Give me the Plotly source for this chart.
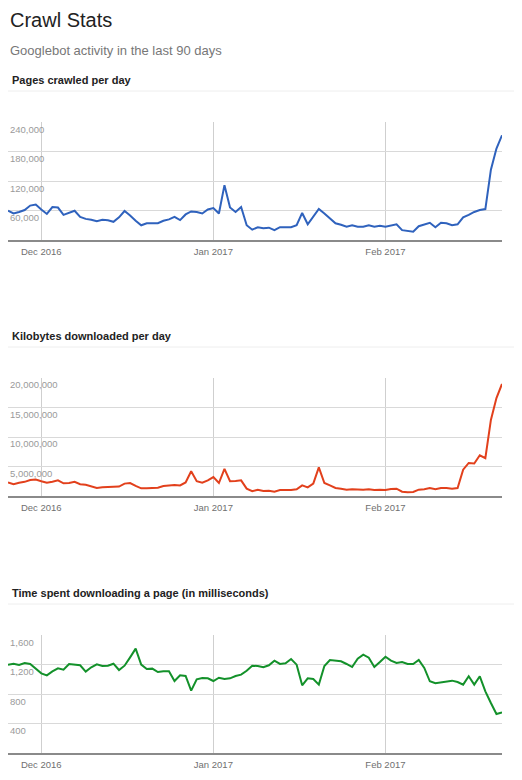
import pandas as pd
import plotly.graph_objects as go

# page body has an 8px margin, so the figure is a bit smaller and shifted
OFF = 8
W, H = 522 - 2 * OFF, 780 - 2 * OFF

days = pd.date_range("2016-11-25", "2017-02-22", freq="D")

pages_crawled = [
    59500, 54000, 57000, 61000, 70000, 72000, 62000, 53000, 67000, 66000,
    51000, 55000, 59500, 47000, 43000, 41000, 38000, 41000, 40000, 37000,
    46000, 59000, 50000, 39000, 30000, 34000, 34000, 34000, 39000, 42000,
    47000, 40500, 52000, 58000, 57000, 54000, 62000, 65000, 54000, 111500,
    66000, 57000, 67000, 30000, 21000, 26000, 24000, 25000, 20000, 26000,
    26000, 26000, 30000, 55000, 32000, 47000, 63000, 54000, 44000, 34000,
    31000, 27000, 30000, 27000, 27000, 30000, 27000, 29000, 27000, 30000,
    32000, 20000, 18000, 17000, 28000, 32000, 35000, 26000, 35000, 34000,
    30000, 32000, 46000, 51000, 57000, 61000, 63000, 143000, 186000, 213000,
]

kb_downloaded = [
    2300000, 2000000, 2260000, 2400000, 2700000, 2800000, 2500000, 2260000, 2400000, 2650000,
    2150000, 2200000, 2400000, 2000000, 1900000, 1640000, 1360000, 1470000, 1500000, 1500000,
    1600000, 2100000, 2200000, 1700000, 1300000, 1300000, 1360000, 1400000, 1700000, 1800000,
    1860000, 1800000, 2300000, 4200000, 2500000, 2260000, 2650000, 3200000, 2200000, 4600000,
    2500000, 2550000, 2650000, 1240000, 800000, 1070000, 850000, 900000, 730000, 1000000,
    1000000, 1000000, 1130000, 1800000, 1470000, 2100000, 4860000, 2200000, 1800000, 1360000,
    1240000, 1070000, 1130000, 1070000, 1070000, 1130000, 1000000, 1070000, 1000000, 1200000,
    1240000, 730000, 620000, 680000, 1070000, 1130000, 1360000, 1130000, 1360000, 1360000,
    1240000, 1360000, 4460000, 5600000, 5500000, 6900000, 6400000, 12900000, 16600000, 19000000,
]

ms_per_page = [
    1198, 1211, 1193, 1220, 1207, 1139, 1080, 1053, 1107, 1148,
    1130, 1207, 1202, 1189, 1103, 1162, 1202, 1180, 1184, 1211,
    1125, 1184, 1297, 1415, 1198, 1139, 1144, 1098, 1107, 1107,
    976, 1053, 1044, 845, 999, 1017, 1012, 976, 1021, 1003,
    1012, 1044, 1062, 1116, 1184, 1180, 1162, 1189, 1252, 1207,
    1216, 1275, 1198, 918, 1012, 1003, 927, 1180, 1261, 1248,
    1243, 1207, 1166, 1279, 1333, 1293, 1166, 1234, 1306, 1252,
    1220, 1234, 1207, 1207, 1261, 1153, 972, 945, 954, 972,
    981, 963, 927, 1040, 927, 1040, 836, 678, 529, 551,
]

month_ticks = ["2016-12-01", "2017-01-01", "2017-02-01"]
month_labels = ["Dec 2016", "Jan 2017", "Feb 2017"]

panels = [
    # title, values, color, y ticks, y max, plot top/bottom px, title y, rule y
    ("Pages crawled per day", pages_crawled, "#2f62bd",
     [60000, 120000, 180000, 240000], 240000, 122, 240, 80, 91),
    ("Kilobytes downloaded per day", kb_downloaded, "#e2401c",
     [5000000, 10000000, 15000000, 20000000], 20000000, 378, 496, 336, 347),
    ("Time spent downloading a page (in milliseconds)", ms_per_page, "#13912a",
     [400, 800, 1200, 1600], 1600, 635, 753, 593, 604),
]

FONT = "Arial, Liberation Sans, sans-serif"


def px(x):
    return max(0, (x - OFF) / W)


def py(y):
    return 1 - (y - OFF) / H


fig = go.Figure()
annotations = []
shapes = []

for i, (title, vals, color, yticks, ymax, top, bottom, ty, rule) in enumerate(panels):
    n = "" if i == 0 else str(i + 1)
    fig.add_trace(go.Scatter(
        x=days, y=vals, mode="lines",
        line=dict(color=color, width=2),
        xaxis="x" + n, yaxis="y" + n, showlegend=False,
    ))
    fig.update_layout(**{
        "xaxis" + n: dict(
            domain=[px(7), px(502)], anchor="y" + n, type="date",
            range=["2016-11-25", "2017-02-22"],
            tickvals=month_ticks, ticktext=month_labels,
            showgrid=True, gridcolor="#cfcfcf", gridwidth=1,
            showline=True, linecolor="#8a8a8a", linewidth=1.5,
            ticks="", zeroline=False,
            tickfont=dict(family=FONT, size=9.5, color="#707070"),
            ticklabelstandoff=2,
        ),
        "yaxis" + n: dict(
            domain=[py(bottom), py(top)], anchor="x" + n,
            range=[0, ymax], tickvals=yticks,
            showgrid=True, gridcolor="#d9d9d9", gridwidth=1,
            zeroline=False, showline=False, ticks="",
            showticklabels=False,
        ),
    })
    # value labels sit just under their gridline, inside the plot
    for v in yticks:
        annotations.append(dict(
            text=f"{v:,}", x=0, y=v, xref="paper", yref="y" + n,
            xanchor="left", yanchor="middle", yshift=-7, showarrow=False,
            font=dict(family=FONT, size=9.5, color="#9a9a9a"),
        ))
    annotations.append(dict(
        text="<b>" + title + "</b>", x=px(10), y=py(ty),
        xref="paper", yref="paper", xanchor="left", yanchor="middle",
        showarrow=False, font=dict(family=FONT, size=11, color="#222222"),
    ))
    shapes.append(dict(
        type="line", xref="paper", yref="paper",
        x0=px(7), x1=1, y0=py(rule), y1=py(rule),
        line=dict(color="#eeeeee", width=1),
    ))

annotations.append(dict(
    text="Crawl Stats", x=0, y=py(20),
    xref="paper", yref="paper", xanchor="left", yanchor="middle",
    showarrow=False, font=dict(family=FONT, size=20, color="#222222"),
))
annotations.append(dict(
    text="Googlebot activity in the last 90 days", x=0, y=py(50),
    xref="paper", yref="paper", xanchor="left", yanchor="middle",
    showarrow=False, font=dict(family=FONT, size=13, color="#777777"),
))

fig.update_layout(
    width=W, height=H,
    margin=dict(l=0, r=0, t=0, b=0),
    paper_bgcolor="white", plot_bgcolor="white",
    annotations=annotations, shapes=shapes,
)

fig.write_html("out.html")
